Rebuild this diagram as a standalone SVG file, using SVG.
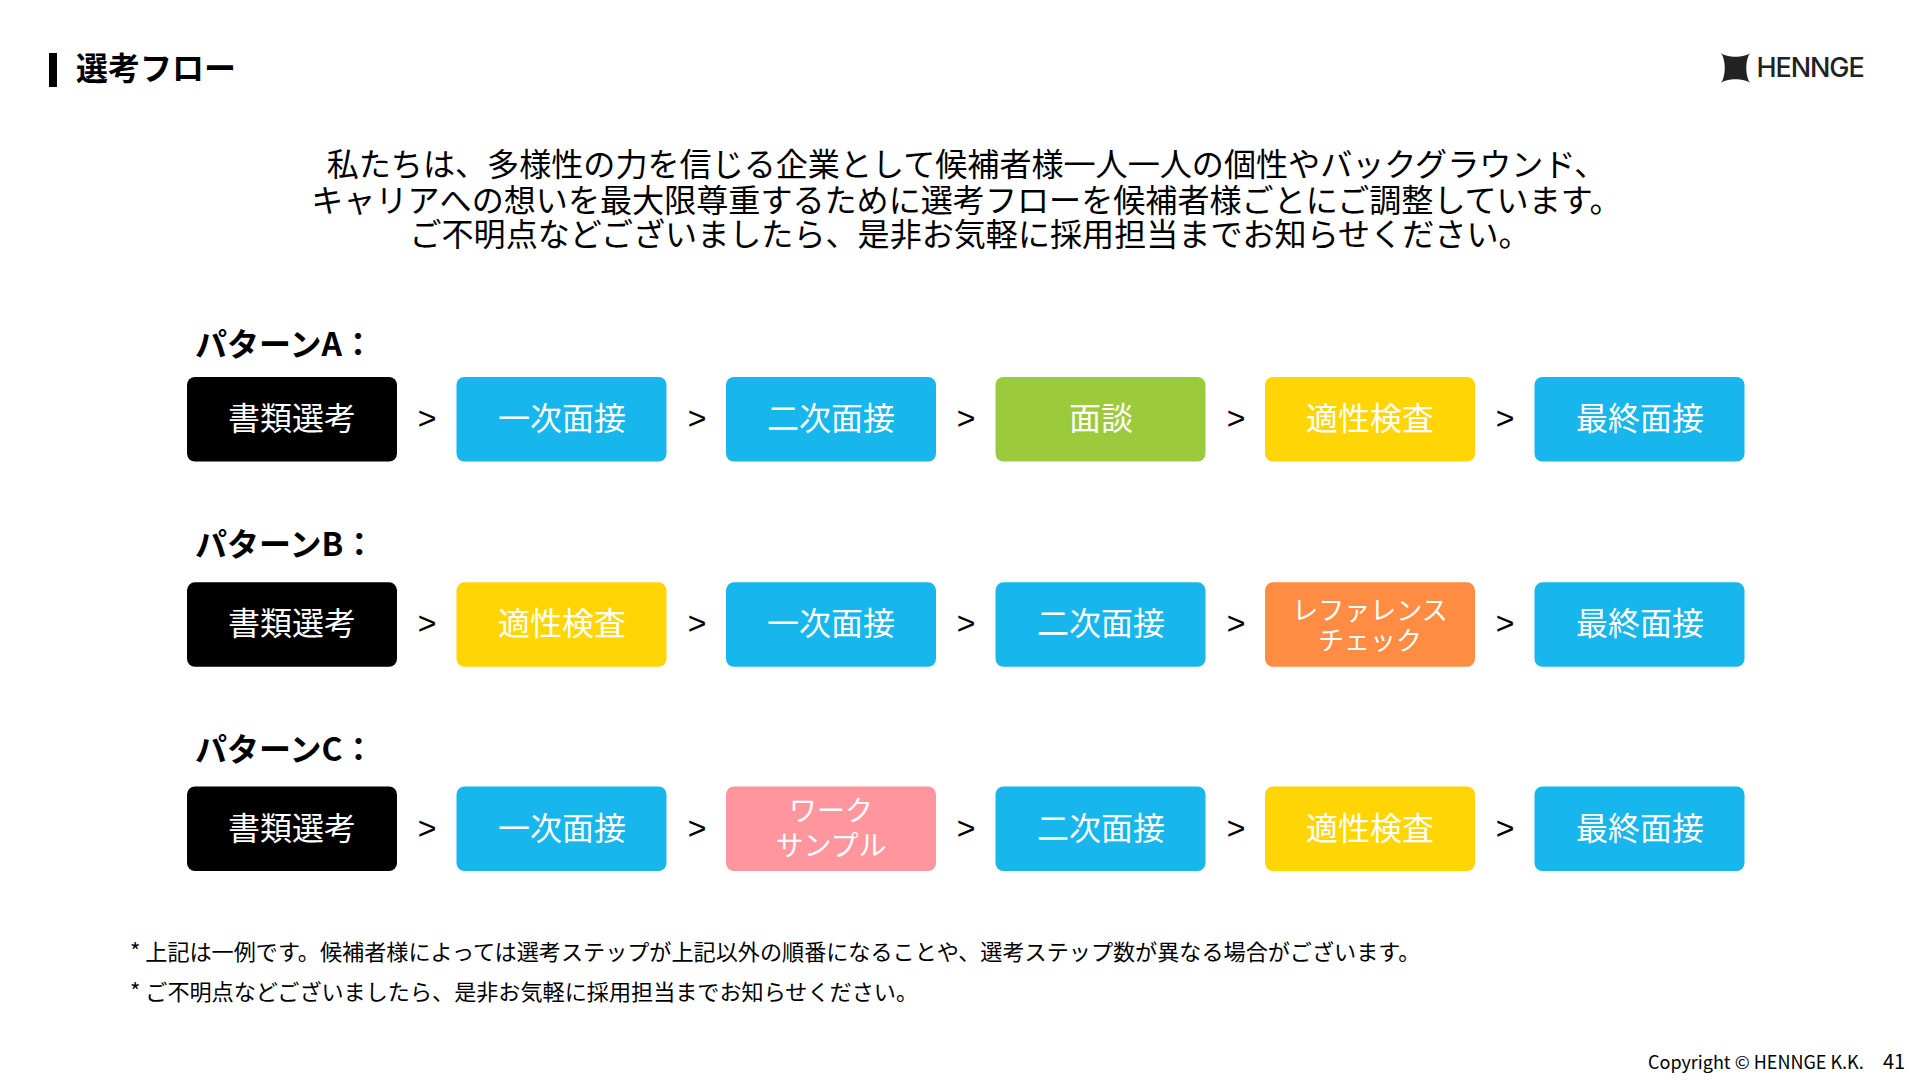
<svg xmlns="http://www.w3.org/2000/svg" width="1920" height="1080" viewBox="0 0 1920 1080">
<style>
text{font-family:"Noto Sans CJK JP","Noto Sans",sans-serif;fill:#000}
.k{fill:#000}.b{fill:#17B6EC}.g{fill:#9BCB3C}.y{fill:#FFD505}.o{fill:#FF8C42}.p{fill:#FF969E}
.t{font-size:32px;fill:#fff;text-anchor:middle}
.t2{font-size:28px;fill:#fff;text-anchor:middle}
.t3{font-size:26px;fill:#fff;text-anchor:middle}
.gt{font-size:32px;text-anchor:middle;font-family:"Liberation Sans",sans-serif}
.h{font-size:32px;font-weight:700}
.lead{font-size:32.1px;text-anchor:middle}
.fn{font-size:22.12px}
</style>
<rect width="1920" height="1080" fill="#fff"/>
<g id="title"><rect x="49" y="53" width="8" height="34" fill="#000"/><text x="76" y="80" class="h">選考フロー</text></g>
<g id="logo"><path d="M1721 53C1727 58 1744 58 1750 53C1745 60 1745 76 1750 83C1744 78 1727 78 1721 83C1726 76 1726 60 1721 53Z" fill="#222"/><text x="1756.5" y="77" font-size="27" style="font-family:Inter,sans-serif;font-weight:500;letter-spacing:-1.1px;fill:#222">HENNGE</text></g>
<g id="lead">
<text x="966.5" y="176" class="lead">私たちは、多様性の力を信じる企業として候補者様一人一人の個性やバックグラウンド、</text>
<text x="966.5" y="212" class="lead">キャリアへの想いを最大限尊重するために選考フローを候補者様ごとにご調整しています。</text>
<text x="970" y="246" class="lead">ご不明点などございましたら、是非お気軽に採用担当までお知らせください。</text>
</g>
<g id="labels">
<text x="195" y="356" class="h">パターンA：</text>
<text x="195" y="556" class="h">パターンB：</text>
<text x="195" y="761" class="h">パターンC：</text>
</g>
<g id="connectors">
<text x="427" y="429" class="gt">&gt;</text><text x="697" y="429" class="gt">&gt;</text><text x="966" y="429" class="gt">&gt;</text><text x="1236" y="429" class="gt">&gt;</text><text x="1505" y="429" class="gt">&gt;</text>
<text x="427" y="634" class="gt">&gt;</text><text x="697" y="634" class="gt">&gt;</text><text x="966" y="634" class="gt">&gt;</text><text x="1236" y="634" class="gt">&gt;</text><text x="1505" y="634" class="gt">&gt;</text>
<text x="427" y="839" class="gt">&gt;</text><text x="697" y="839" class="gt">&gt;</text><text x="966" y="839" class="gt">&gt;</text><text x="1236" y="839" class="gt">&gt;</text><text x="1505" y="839" class="gt">&gt;</text>
</g>
<defs><rect id="r" width="210" height="84.5" rx="8"/></defs>
<g id="a1"><use href="#r" x="187" y="377" class="k"/><text x="292" y="430" class="t">書類選考</text></g>
<g id="a2"><use href="#r" x="456.5" y="377" class="b"/><text x="562" y="430" class="t">一次面接</text></g>
<g id="a3"><use href="#r" x="726" y="377" class="b"/><text x="831" y="430" class="t">二次面接</text></g>
<g id="a4"><use href="#r" x="995.5" y="377" class="g"/><text x="1101" y="430" class="t">面談</text></g>
<g id="a5"><use href="#r" x="1265" y="377" class="y"/><text x="1370" y="430" class="t">適性検査</text></g>
<g id="a6"><use href="#r" x="1534.5" y="377" class="b"/><text x="1640" y="430" class="t">最終面接</text></g>
<g id="b1"><use href="#r" x="187" y="582.3" class="k"/><text x="292" y="635" class="t">書類選考</text></g>
<g id="b2"><use href="#r" x="456.5" y="582.3" class="y"/><text x="562" y="635" class="t">適性検査</text></g>
<g id="b3"><use href="#r" x="726" y="582.3" class="b"/><text x="831" y="635" class="t">一次面接</text></g>
<g id="b4"><use href="#r" x="995.5" y="582.3" class="b"/><text x="1101" y="635" class="t">二次面接</text></g>
<g id="b5"><use href="#r" x="1265" y="582.3" class="o"/><text x="1370" y="620" class="t3">レファレンス</text><text x="1370" y="650" class="t3">チェック</text></g>
<g id="b6"><use href="#r" x="1534.5" y="582.3" class="b"/><text x="1640" y="635" class="t">最終面接</text></g>
<g id="c1"><use href="#r" x="187" y="786.5" class="k"/><text x="292" y="840" class="t">書類選考</text></g>
<g id="c2"><use href="#r" x="456.5" y="786.5" class="b"/><text x="562" y="840" class="t">一次面接</text></g>
<g id="c3"><use href="#r" x="726" y="786.5" class="p"/><text x="831" y="821" class="t2">ワーク</text><text x="831" y="856" class="t2">サンプル</text></g>
<g id="c4"><use href="#r" x="995.5" y="786.5" class="b"/><text x="1101" y="840" class="t">二次面接</text></g>
<g id="c5"><use href="#r" x="1265" y="786.5" class="y"/><text x="1370" y="840" class="t">適性検査</text></g>
<g id="c6"><use href="#r" x="1534.5" y="786.5" class="b"/><text x="1640" y="840" class="t">最終面接</text></g>
<g id="notes">
<text x="130" y="960" class="fn">* 上記は一例です。候補者様によっては選考ステップが上記以外の順番になることや、選考ステップ数が異なる場合がございます。</text>
<text x="130" y="1000" class="fn">* ご不明点などございましたら、是非お気軽に採用担当までお知らせください。</text>
</g>
<g id="footer"><text x="1648" y="1069" font-size="18">Copyright © HENNGE K.K.</text><text x="1883" y="1069" font-size="20">41</text></g>
</svg>
